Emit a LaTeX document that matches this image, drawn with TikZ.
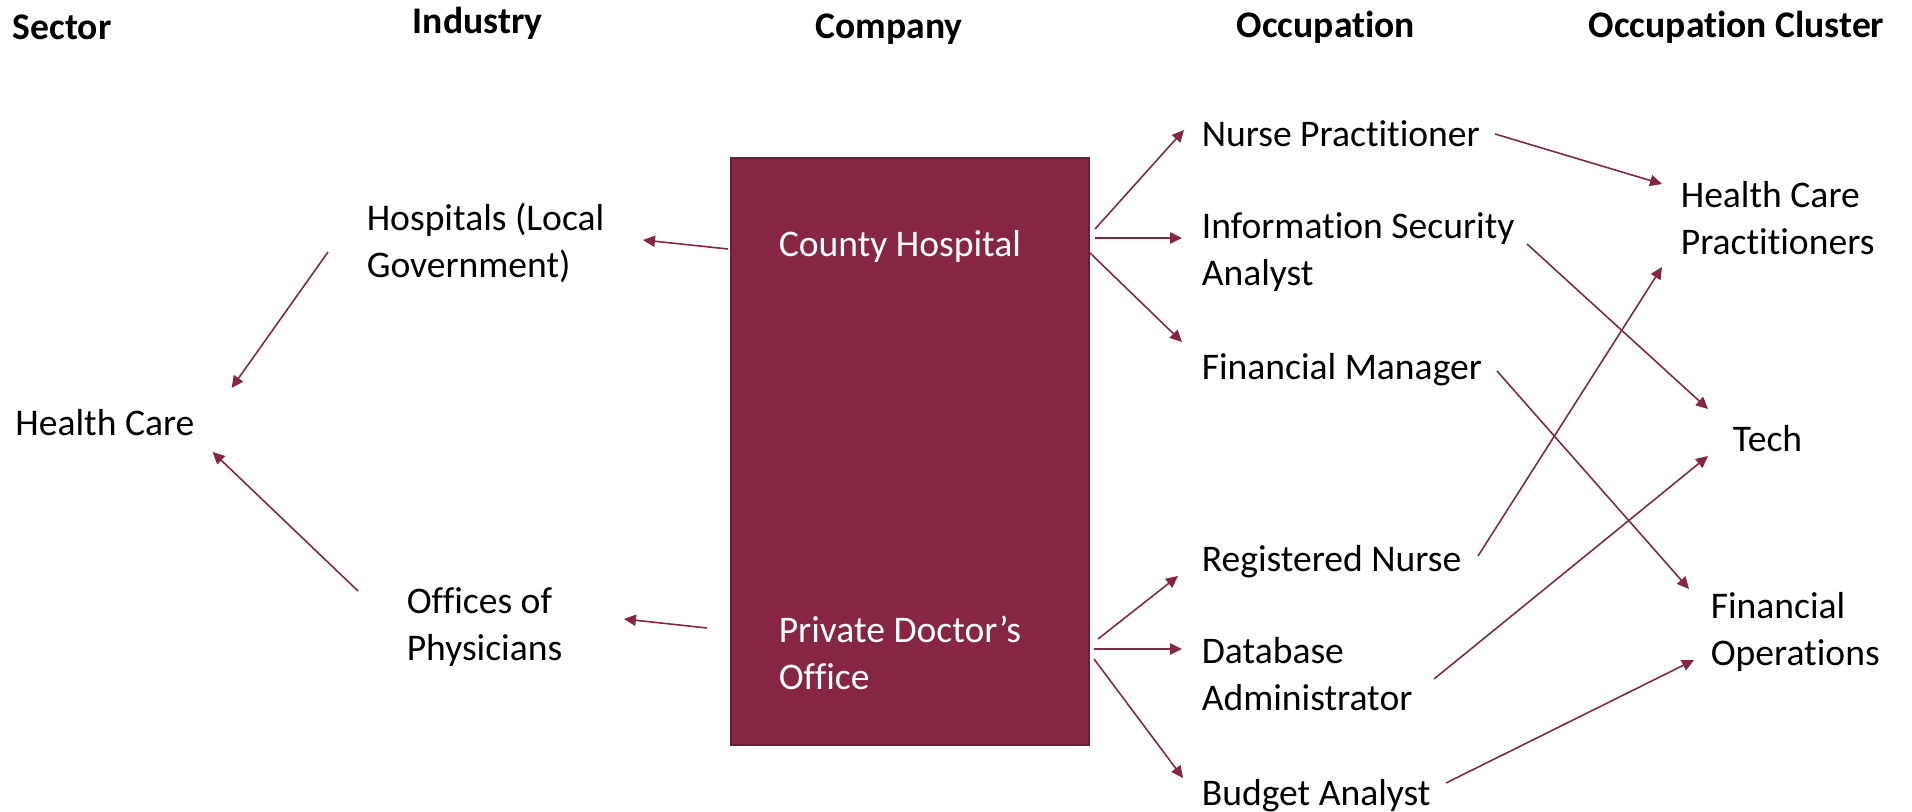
\documentclass[tikz,border=0pt]{standalone}
\usepackage{fontspec}
\setmainfont{Carlito}[Ligatures=NoCommon]
\usetikzlibrary{arrows.meta}
\definecolor{boxred}{RGB}{134,38,66}
\tikzset{
	every node/.style={font=\fontsize{10.7}{13.2}\selectfont, text=black, anchor=west, inner sep=0pt, align=left},
	head node/.style={font=\fontsize{10.7}{13.2}\selectfont\bfseries}
}

\begin{document}
\begin{tikzpicture}[->, >={Triangle[length=3.4pt,width=3.2pt]}, line width=0.45pt, color=boxred,
	companybox/.style={rectangle, fill=boxred, draw=boxred!80!black, line width=0.7pt, minimum width=3.58cm, minimum height=5.87cm, anchor=center},
	whitetext/.style={text=white}]
	\useasboundingbox (0,0) rectangle (19.12,-8.12);

	% Column heads
	\node[head node] (h1) at (0.12,-0.27) {Sector};
	\node[head node] (h2) at (4.12,-0.23) {Industry};
	\node[head node] (h3) at (8.15,-0.29) {Company};
	\node[head node] (h4) at (12.36,-0.27) {Occupation};
	\node[head node] (h5) at (15.88,-0.27) {Occupation Cluster};

	\node[companybox] (box) at (9.10,-4.515) {};

	\node (1) at (0.146,-4.23) {Health Care};
	\node (2) at (3.66,-2.43) {Hospitals (Local\\Government)};
	\node (3) at (4.06,-6.27) {Offices of\\Physicians};
	\node[whitetext] (4) at (7.78,-2.465) {County Hospital};
	\node[whitetext] (5) at (7.78,-6.53) {Private Doctor’s\\Office};

	\node (6) at (12.01,-1.34) {Nurse Practitioner};
	\node (7) at (12.01,-2.52) {Information Security\\Analyst};
	\node (8) at (12.01,-3.70) {Financial Manager};
	\node (9) at (12.01,-5.62) {Registered Nurse};
	\node (10) at (12.01,-6.74) {Database\\Administrator};
	\node (11) at (12.01,-7.96) {Budget Analyst};

	\node (12) at (16.80,-2.18) {Health Care\\Practitioners};
	\node (13) at (17.32,-4.39) {Tech};
	\node (14) at (17.10,-6.32) {Financial\\Operations};

	% Industry to Sector
	\draw ([shift={(-0.38,-0.09)}]2.west) -- ([shift={(2.17,0.35)}]1.west);
	\draw ([shift={(-0.48,0.36)}]3.west) -- ([shift={(1.98,-0.29)}]1.west);

	% Company to Industry
	\draw ([shift={(-0.50,-0.025)}]4.west) -- ([shift={(2.77,0.03)}]2.west);
	\draw ([shift={(-0.71,0.25)}]5.west) -- ([shift={(2.18,0.08)}]3.west);

	% Company to Occupation
	\draw ([shift={(3.17,0.175)}]4.west) -- ([shift={(-0.17,0.04)}]6.west);
	\draw ([shift={(3.17,0.085)}]4.west) -- ([shift={(-0.19,0.14)}]7.west);
	\draw ([shift={(3.11,-0.055)}]4.west) -- ([shift={(-0.19,0.28)}]8.west);
	\draw ([shift={(3.20,0.14)}]5.west) -- ([shift={(-0.23,-0.14)}]9.west);
	\draw ([shift={(3.16,0.04)}]5.west) -- ([shift={(-0.19,0.25)}]10.west);
	\draw ([shift={(3.16,-0.06)}]5.west) -- ([shift={(-0.18,0.18)}]11.west);

	% Occupation to Cluster
	\draw ([shift={(2.94,0.00)}]6.west) -- ([shift={(-0.18,0.34)}]12.west);
	\draw ([shift={(3.26,0.08)}]7.west) -- ([shift={(-0.24,0.30)}]13.west);
	\draw ([shift={(2.96,-0.01)}]8.west) -- ([shift={(-0.21,0.43)}]14.west);
	\draw ([shift={(2.77,0.06)}]9.west) -- ([shift={(-0.18,-0.49)}]12.west);
	\draw ([shift={(2.33,-0.05)}]10.west) -- ([shift={(-0.24,-0.17)}]13.west);
	\draw ([shift={(2.45,0.13)}]11.west) -- ([shift={(-0.16,-0.28)}]14.west);
\end{tikzpicture}
\end{document}
